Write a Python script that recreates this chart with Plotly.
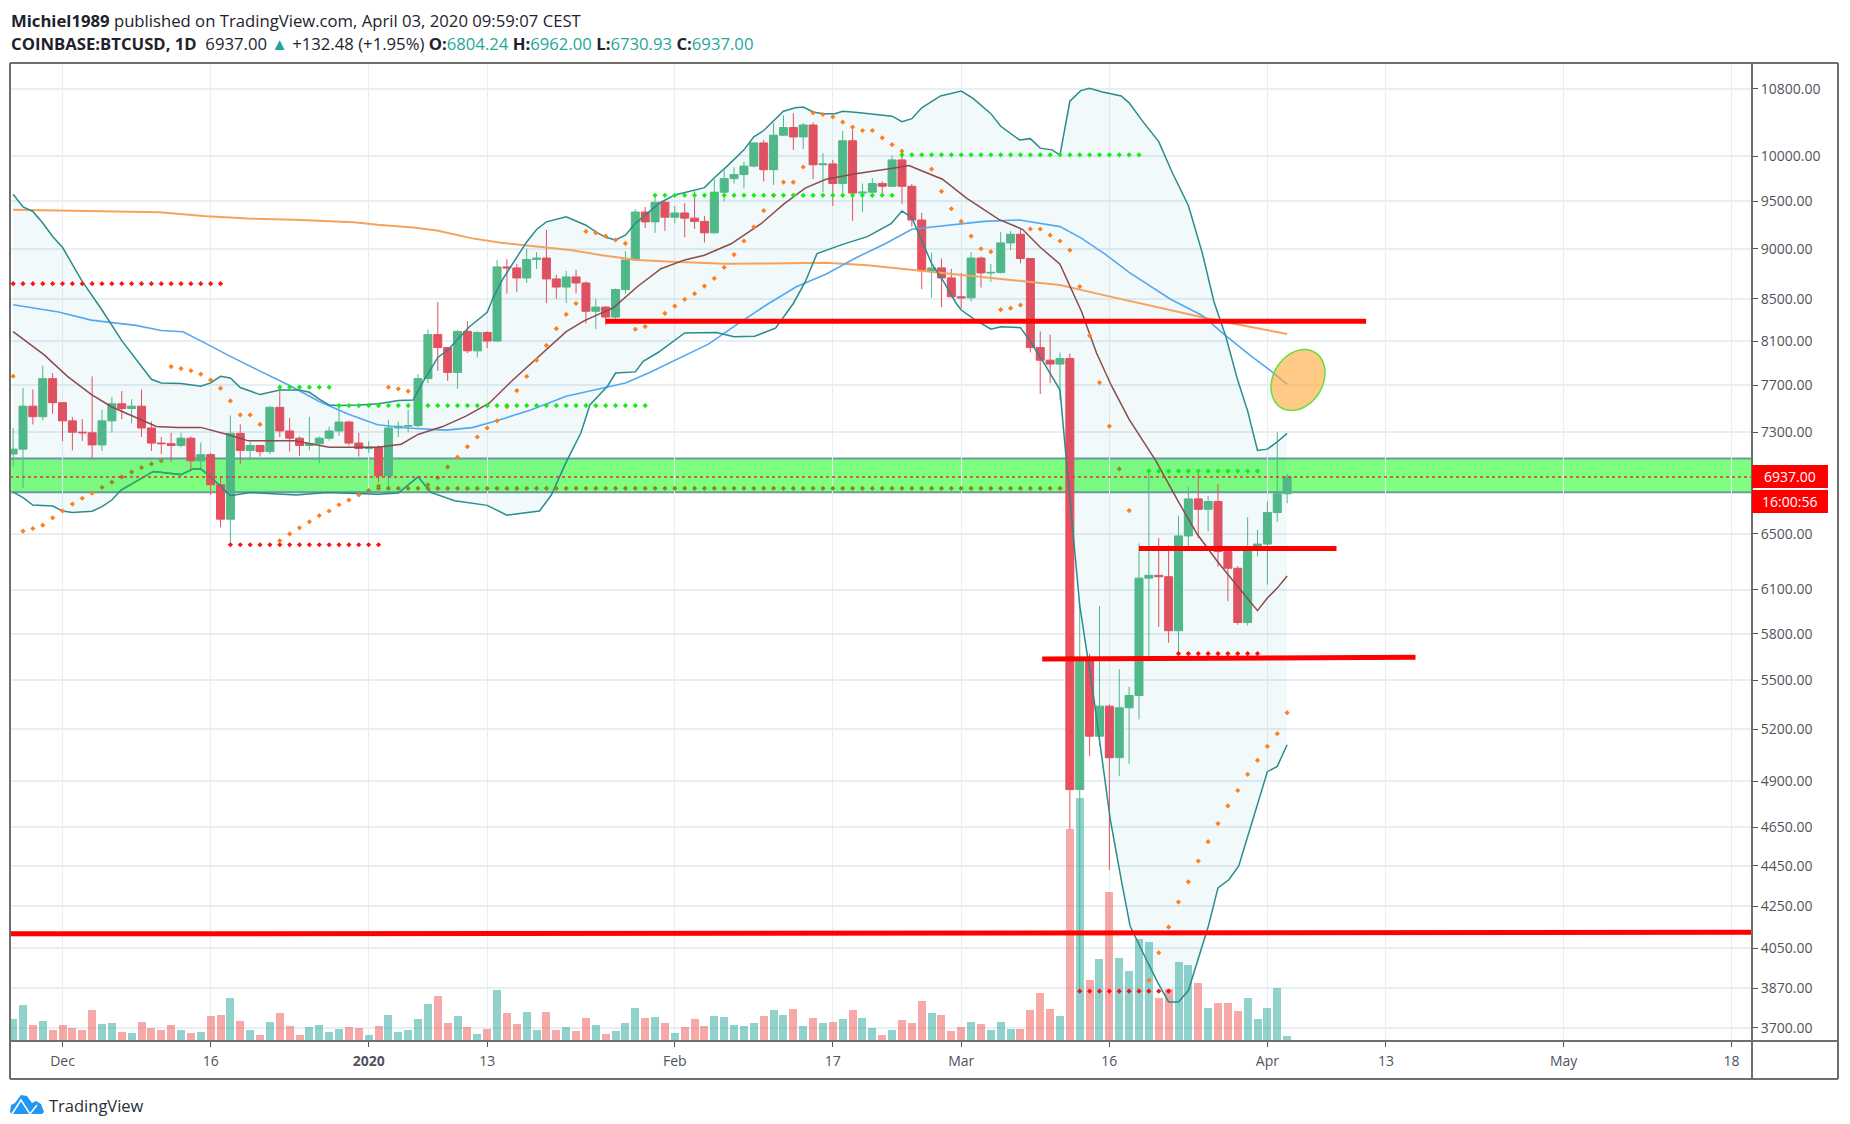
import numpy as np
import pandas as pd
import plotly.graph_objects as go

# ---------- candles (COINBASE:BTCUSD daily, 2019-11-26 .. 2020-04-03) ----------
opens = [7120,7160,7520,7430,7760,
 7550,7395,7300,7295,7195,7395,7540,7500,7520,7335,7210,7205,7190,7250,7065,7115,6875,6610,7290,7150,7190,7140,7510,7310,7250,7190,7205,7250,7310,7385,7210,
 7165,7175,6945,7335,7350,7355,7760,8160,8040,7815,8190,8010,8180,8100,8815,8805,8705,8890,8905,8695,8615,8715,8655,8380,8420,8325,8590,8885,9385,9280,9490,
 9330,9375,9320,9285,9165,9600,9750,9795,9890,10155,9850,10245,10335,10225,10365,9905,9915,9695,10180,9590,9600,9695,9665,9960,9665,9300,8775,8805,8705,
 8520,8510,8905,8755,8760,9060,9150,8900,8040,7925,7890,7940,4855,5635,5160,5340,5035,5330,5405,6180,6200,6190,5820,6485,6765,6685,6745,6370,6250,5875,6400,
 6425,6660,6804.24]
highs = [7335,7680,7665,7875,7810,
 7555,7425,7410,7780,7490,7600,7650,7580,7665,7390,7260,7295,7295,7265,7215,7130,6937,7440,7365,7220,7195,7520,7695,7420,7265,7430,7265,7345,7530,7395,7295,
 7225,7190,7405,7390,7490,7800,8210,8470,8045,8200,8285,8190,8190,8885,8895,8845,9000,8965,9195,8735,8775,8785,8670,8500,8430,8600,8975,9415,9440,9575,9510,
 9450,9480,9610,9345,9740,9840,9875,9940,10160,10190,10390,10480,10505,10385,10395,10035,9960,10295,10310,9695,9755,9720,10010,10010,9690,9375,8960,8900,8795,
 8755,8965,8920,8845,9175,9185,9205,8905,8190,8160,7995,7985,5995,5670,5985,5350,5570,5460,6430,6990,6470,6415,6635,6860,6970,6790,6880,6375,6265,6625,
 6530,6745,7300,6962]
lows = [7015,6850,7365,7400,7455,
 7225,7150,7227,7080,7145,7295,7410,7375,7260,7145,7120,7060,7175,6995,6990,6795,6550,6425,7040,7070,7100,7120,7260,7140,7105,7150,7045,7230,7270,7190,7100,
 7130,6895,6860,7260,7300,7340,7720,7830,7740,7670,7990,7950,8035,8095,8550,8565,8655,8795,8460,8500,8460,8555,8265,8210,8250,8265,8550,8875,9215,9165,9185,
 9265,9120,9205,9065,9155,9500,9695,9640,9875,9720,9680,10240,10074,10085,9745,9600,9450,9590,9290,9385,9540,9560,9660,9470,9230,8595,8510,8420,8515,
 8410,8475,8610,8665,8750,8985,8850,7995,7625,7720,7570,4640,3850,5045,5105,4430,4930,5000,5260,5650,5845,5740,5675,6395,6470,6520,6260,6020,5860,5855,
 6335,6135,6590,6730.93]
closes = [7160,7520,7430,7760,7550,
 7395,7300,7295,7195,7395,7540,7500,7520,7335,7210,7205,7190,7250,7065,7115,6875,6610,7290,7150,7190,7140,7510,7310,7250,7190,7205,7250,7310,7385,7210,7165,
 7175,6945,7335,7350,7355,7760,8160,8040,7815,8190,8010,8180,8100,8815,8805,8705,8890,8905,8695,8615,8715,8655,8380,8420,8325,8590,8885,9385,9280,9490,9330,
 9375,9320,9285,9165,9600,9750,9795,9890,10155,9850,10245,10335,10225,10365,9905,9915,9695,10180,9590,9600,9695,9665,9960,9665,9300,8775,8805,8705,8520,
 8510,8905,8755,8760,9060,9150,8900,8040,7925,7890,7940,4855,5635,5160,5340,5035,5330,5405,6180,6200,6190,5820,6485,6765,6685,6745,6370,6250,5875,6400,6425,
 6660,6804.24,6937]
# volume in arbitrary units
volumes = [22,36,16.3,20.3,11.3,16.3,13.3,11.3,31,17.3,17.7,9,8,19.3,13.3,11,16,11.3,8,9,
 24.7,26.3,43,19.7,11.3,6.3,19,28,14.7,6,14.3,16,9,12,14,12.7,6.3,15.3,26.3,9,11,22,37,45,18,25.3,14,7.3,12.3,50.7,
 28,17.3,29,10.7,28.7,10.7,14,10.3,23,16.3,7.3,10.3,18,33,23,
 24,18,8,14,22,15.3,24.7,23.7,16,15.3,18,24.7,31,25.7,32,15.3,23,17.7,19,22,31,23,13.3,6.3,10.7,21,17.7,40.3,27.7,25.7,9.7,
 14,19,17.3,10.7,19,12,12,31.3,48,32,25.3,212,243,61.4,82,149,82.6,70,102,99,43.5,52,79,76,58,33,38,38,30,43.5,22,33,53.5,5]

# ---------- indicator lines: day number counted from 2019-12-01, and price ----------
upper_days = [-5,-4,-3,-2,-1,0,2,4,6,8,9,10,12,14,15,16,17,18,20,22,24,25,26,27,28,30,32,34,35.5,36.5,37.4,38,39,41.2,43,43.6,44.6,45.8,47,48,49,51,53,54,55,56,57,58,60.5,62,63.9,65,66,67.3,69,70,71,72,73,74.2,75,76,77,78.2,79,80.5,82.8,84,85,86,87,88.9,91,92.2,94,95,96.9,98,99,100.2,101,102,103.1,104,105.2,107.2,108,109.4,111,112.4,114,115.4,116.6,117.8,119,120,121,122,123,124]
upper_vals = [9578,9440,9391,9268,9126,9015,8671,8392,8104,7876,7754,7722,7716,7693,7722,7780,7765,7682,7620,7659,7660,7640,7580,7530,7525,7530,7540,7568,7573,7732,7860,7950,8018,8233,8370,8510,8697,8885,9070,9200,9280,9335,9245,9175,9118,9090,9140,9265,9485,9570,9625,9650,9760,9890,10075,10225,10300,10420,10530,10570,10580,10520,10500,10500,10530,10515,10490,10470,10405,10440,10570,10715,10775,10685,10500,10350,10190,10205,10095,10075,10015,10650,10780,10810,10765,10715,10630,10405,10170,9810,9455,8960,8470,8140,7745,7480,7150,7160,7220,7290]
lower_days = [-5,-4,-3,-1,0,1,3,4,5,5.9,9.2,12,13.2,14,15,17,19,23.7,26.8,32,34,36,37.3,39.7,43,45,48.3,49.5,51,52.5,53.4,55.2,56,58,58.8,60.3,63,66.2,68,70.1,72.2,74,75.2,76.4,79,81.5,83.9,85,86,88,89.2,90.5,91,92.3,94,95,97,98,99.5,101,101.7,102.6,103,104.4,106.1,107.3,108.1,109.4,110.9,112,113,114,115,116,117,118.1,119.1,120,121,122,123,124]
lower_vals = [6817,6775,6717,6710,6672,6660,6670,6705,6756,6832,6980,6955,7000,7000,6937,6790,6815,6795,6815,6800,6810,6937,6815,6750,6715,6640,6672,6795,7055,7295,7530,7695,7810,7820,7915,7995,8175,8180,8140,8145,8220,8455,8665,8950,9045,9125,9260,9395,9325,8850,8670,8455,8392,8305,8210,8233,8225,8095,7880,7660,7020,6295,5990,5400,4690,4355,4155,4030,3895,3810,3810,3860,4000,4150,4340,4380,4450,4600,4785,4955,4985,5110]
basis_days = [-5,-1.85,0.5,2.9,5,7.4,9.5,11.6,14,16.7,18.8,23.5,27,31.9,34.3,36,38.5,40.9,43.2,45.6,48,51,52.8,54,55.8,58.2,60.6,63,65,67.7,70.7,73,75.2,77.3,80.3,83.9,85.7,87.3,89.1,91.5,94.8,97.2,99,101,103.2,104.7,106.2,108,110.7,113,114.9,117,119.6,121,122,123,124]
basis_vals = [8187,7973,7780,7622,7513,7423,7347,7340,7340,7281,7228,7228,7175,7175,7200,7281,7347,7437,7545,7748,7940,8187,8289,8341,8415,8618,8797,8886,8934,9051,9258,9468,9644,9743,9803,9864,9896,9824,9743,9538,9307,9202,9015,8843,8374,7990,7700,7407,7067,6742,6497,6293,6067,5955,6042,6110,6195]
blue_days = [-5,-0.4,2.9,7.4,10,12.2,14.3,16.7,20,23,25.9,28.9,31.9,34.9,38.8,41.5,44.4,47.4,51,54.9,57,59.4,62.4,65.4,68.3,71.3,74.3,77.3,80.3,83.3,86,90.9,93.3,96.9,101,103.2,105.6,108,112.2,115.4,117.5,120.2,122.6,124]
blue_vals = [8443,8374,8296,8246,8198,8186,8088,7973,7827,7700,7565,7453,7362,7335,7317,7338,7407,7488,7606,7684,7722,7812,7940,8072,8256,8443,8618,8742,8905,9051,9202,9254,9285,9300,9230,9107,8942,8761,8496,8340,8171,7973,7812,7710]
orange_days = [-5,-0.4,5.6,9.8,14.6,18.8,23.5,29.5,31.9,35.5,37.9,41.5,44.4,47.4,51.6,54.6,58.2,61.8,67.1,71.3,77.3,81.5,86.9,92,97,101,105.2,111.2,115.4,119,124]
orange_vals = [9410,9400,9391,9383,9340,9315,9304,9276,9250,9220,9190,9107,9062,9033,8985,8934,8886,8868,8847,8850,8858,8832,8778,8724,8671,8636,8541,8409,8323,8255,8166]

# parabolic SAR dots
psar_days = [-5,-4,-3,-2,-1,0,1,2,3,4,5,6,7,8,9,10,11,12,13,14,15,16,17,18,19,20,22,23,24,25,26,27,28,29,30,31,32,33,34,35,37,38,39,40,41,42,43,44,45,46,47,48,49,50,51,52,53,54,55,56,57,58,59,61,62,63,64,65,66,67,68,69,70,71,72,73,74,75,76,77,78,79,80,81,82,83,84,85,88,89,90,91,92,93,94,95,96,97,98,99,100,101,102,103,104,105,106,107,108,110,111,112,113,114,115,116,117,118,119,120,121,122,123,124]
psar_vals = [7781,6520,6540,6565,6620,6672,6725,6770,6810,6855,6895,6937,6975,7010,7040,7065,7868,7850,7830,7800,7747,7675,7565,7445,7445,7365,6450,6500,6545,6590,6637,6672,6720,6756,6795,6830,6865,7685,7670,7650,6875,6930,7015,7095,7180,7260,7335,7395,7515,7655,7780,7925,8060,8215,8350,8455,9180,9165,9130,9090,9055,8210,8235,8360,8430,8495,8550,8625,8700,8810,8940,9080,9225,9400,9565,9710,9710,9880,10510,10490,10460,10400,10340,10300,10300,10215,10135,10060,9855,9610,9420,9285,9130,9000,8970,8395,8410,8440,9205,9205,9140,9080,8985,8620,8150,7725,7350,7000,6675,3905,4030,4150,4270,4370,4475,4575,4670,4765,4850,4940,5020,5100,5175,5300]

# dotted levels: first day, last day, price, colour
red_levels = [(-5,16,8648),(17,32,6420),(113,121,5670),(103,112,3857)]
green_levels = [(22,27,7685),(28,59,7525),(60,84,9566),(85,109,10018),(110,121,6983)]
olive_levels = [(32,101,6847)]

# hand drawn horizontal lines: day from, day to, price from, price to
drawn_lines = [(55.0,132.0,8285,8285),(-5.3,171.07,4118,4125),(109.0,129.0,6392,6392),(99.2,137.0,5635,5647)]
band_low, band_high = 6817, 7084
last_price = 6937

x_tick_days = [0,15,31,43,62,78,91,106,122,134,152,169]
x_tick_text = ["Dec","16","<b>2020</b>","13","Feb","17","Mar","16","Apr","13","May","18"]
y_ticks = [10800,10000,9500,9000,8500,8100,7700,7300,6500,6100,5800,5500,5200,4900,4650,4450,4250,4050,3870,3700]

# ---------- helpers ----------
D0 = pd.Timestamp("2019-12-01")
def day(d):
    return (D0 + pd.to_timedelta(d, unit="D")).strftime("%Y-%m-%d %H:%M:%S")
def days(seq):
    return [day(d) for d in seq]
L, R, T, B = 10, 1752, 63, 1041
def PX(x): return (x - L) / (R - L)
def PY(y): return (B - y) / (B - T)

all_days = list(range(-5, 125))
assert len(opens) == len(highs) == len(lows) == len(closes) == len(volumes) == 130

GREEN, RED = "#53B987", "#EB4D5C"
fig = go.Figure()

vol_colors = ["rgba(38,166,154,0.5)" if c >= o else "rgba(239,83,80,0.5)" for o, c in zip(opens, closes)]
fig.add_trace(go.Bar(x=days(all_days), y=volumes, marker=dict(color=vol_colors, line=dict(width=0)),
                     yaxis="y", width=8.0 * 86400000 / 9.876, hoverinfo="skip", showlegend=False))

fig.add_trace(go.Candlestick(x=days(all_days), open=opens, high=highs, low=lows, close=closes, yaxis="y2",
    increasing=dict(line=dict(color=GREEN, width=1), fillcolor=GREEN),
    decreasing=dict(line=dict(color=RED, width=1), fillcolor=RED),
    whiskerwidth=0, showlegend=False, hoverinfo="skip"))

# Bollinger fill
fig.add_trace(go.Scatter(x=days(upper_days) + days(lower_days[::-1]), y=upper_vals + lower_vals[::-1],
    yaxis="y2", mode="lines", fill="toself", fillcolor="rgba(33,150,170,0.06)", line=dict(width=0),
    hoverinfo="skip", showlegend=False))
for xs, ys, col, w in [(orange_days, orange_vals, "#F5A35C", 2),
                       (blue_days, blue_vals, "#53A8F0", 1.6),
                       (basis_days, basis_vals, "#8C4A4A", 1.5),
                       (upper_days, upper_vals, "#2A8C8C", 1.5),
                       (lower_days, lower_vals, "#2A8C8C", 1.5)]:
    fig.add_trace(go.Scatter(x=days(xs), y=ys, yaxis="y2", mode="lines", line=dict(color=col, width=w),
                             hoverinfo="skip", showlegend=False))

# the parts of the lines that run through the green band look green-tinted
def in_band_runs(xs, ys, col, w):
    run_x, run_y = [], []
    for a, b in list(zip(xs, ys)) + [(None, None)]:
        if b is not None and band_low <= b <= band_high:
            run_x.append(a); run_y.append(b)
        else:
            if len(run_x) > 1:
                fig.add_trace(go.Scatter(x=days(run_x), y=run_y, yaxis="y2", mode="lines",
                                         line=dict(color=col, width=w), hoverinfo="skip", showlegend=False))
            run_x, run_y = [], []
in_band_runs(lower_days, lower_vals, "#37A868", 1.5)
in_band_runs(basis_days, basis_vals, "#5C7A3A", 1.5)

def dot_trace(xs, ys, col, size=4):
    fig.add_trace(go.Scatter(x=days(xs), y=ys, yaxis="y2", mode="markers",
        marker=dict(color=col, size=size, symbol="diamond", line=dict(width=0)), hoverinfo="skip", showlegend=False))

psar_cols = ["#9A8A20" if band_low <= v <= band_high else "#FF7F1E" for v in psar_vals]
dot_trace(psar_days, psar_vals, psar_cols)
for levels, col in [(red_levels, "#FF1010"), (green_levels, "#10F010"), (olive_levels, "#8A8A14")]:
    for a, b, p in levels:
        n = list(range(a, b + 1))
        dot_trace(n, [p] * len(n), col)

# ---------- furniture ----------
shapes = []
shapes.append(dict(type="rect", xref="paper", yref="y2", x0=0, x1=1, y0=band_low, y1=band_high, layer="between",
                   fillcolor="#7FFF7F", line=dict(color="#6F9A9E", width=2)))
for a, b, p0, p1 in drawn_lines:
    shapes.append(dict(type="line", xref="x", yref="y2", x0=day(a), x1=day(b), y0=p0, y1=p1,
                       line=dict(color="#FF0000", width=5)))
shapes.append(dict(type="line", xref="paper", yref="y2", x0=0, x1=1, y0=last_price, y1=last_price,
                   line=dict(color="#E8352E", width=1.5, dash="dot")))
# ellipse
t = np.linspace(0, 2 * np.pi, 60)
ex = 1298 + 27 * np.cos(t)
ey = 380 - 7.3 * np.cos(t) + 29.6 * np.sin(t)
path = "M " + " L ".join(f"{PX(a):.5f},{PY(b):.5f}" for a, b in zip(ex, ey)) + " Z"
shapes.append(dict(type="path", xref="paper", yref="paper", path=path, fillcolor="rgba(255,170,60,0.62)",
                   line=dict(color="#5FE03C", width=1.5)))
# frame
grey = "#6E6E6E"
for x0, y0, x1, y1 in [(10, 63, 1838, 63), (10, 1079, 1838, 1079), (10, 63, 10, 1079), (1838, 63, 1838, 1079),
                       (1752, 63, 1752, 1079), (10, 1041, 1838, 1041)]:
    shapes.append(dict(type="line", xref="paper", yref="paper", x0=PX(x0), x1=PX(x1), y0=PY(y0), y1=PY(y1),
                       line=dict(color=grey, width=2)))
# price labels
for y0, y1 in [(465, 488), (490, 513)]:
    shapes.append(dict(type="rect", xref="paper", yref="paper", x0=PX(1752), x1=PX(1828), y0=PY(y0), y1=PY(y1),
                       fillcolor="#FF0000", line=dict(width=0)))
# logo
logo = [(10,1112),(11,1105),(15,1103),(21,1095),(27,1096),(32,1103),(36,1101),(41,1104),(44,1112),(42,1114),(12,1114)]
shapes.append(dict(type="path", xref="paper", yref="paper", fillcolor="#2196F3", line=dict(width=0),
                   path="M " + " L ".join(f"{PX(a):.5f},{PY(b):.5f}" for a, b in logo) + " Z"))
white = [(12,1114),(21,1100),(30,1114),(37,1105)]
shapes.append(dict(type="path", xref="paper", yref="paper", line=dict(color="white", width=1.5),
                   path="M " + " L ".join(f"{PX(a):.5f},{PY(b):.5f}" for a, b in white)))

FONT = "Open Sans"
teal = "#26A69A"
def tv(s): return f'<span style="color:{teal}">{s}</span>'
anns = [
    dict(x=PX(9), y=PY(20), xref="paper", yref="paper", xanchor="left", yanchor="middle", showarrow=False,
         text="<b>Michiel1989</b> published on TradingView.com, April 03, 2020 09:59:07 CEST",
         font=dict(family=FONT, size=16.7, color="#1E222D")),
    dict(x=PX(9), y=PY(43), xref="paper", yref="paper", xanchor="left", yanchor="middle", showarrow=False,
         text=f"<b>COINBASE:BTCUSD, 1D</b>  6937.00 {tv('▲')} +132.48 (+1.95%) <b>O:</b>{tv('6804.24')} <b>H:</b>{tv('6962.00')} <b>L:</b>{tv('6730.93')} <b>C:</b>{tv('6937.00')}",
         font=dict(family=FONT, size=16.7, color="#1E222D")),
    dict(x=PX(1790), y=PY(476.5), xref="paper", yref="paper", xanchor="center", yanchor="middle", showarrow=False,
         text="6937.00", font=dict(family=FONT, size=14, color="white")),
    dict(x=PX(1790), y=PY(501.5), xref="paper", yref="paper", xanchor="center", yanchor="middle", showarrow=False,
         text="16:00:56", font=dict(family=FONT, size=14, color="white")),
    dict(x=PX(47), y=PY(1105), xref="paper", yref="paper", xanchor="left", yanchor="middle", showarrow=False,
         text="TradingView", font=dict(family=FONT, size=16.5, color="#2A2E39")),
]

grid = "#E6EFF4"
fig.update_layout(
    width=1850, height=1124, autosize=False,
    margin=dict(l=L, r=1850 - R, t=T, b=1124 - B, pad=0),
    paper_bgcolor="white", plot_bgcolor="white",
    font=dict(family=FONT, size=14, color="#50535E"),
    boxgap=0.1, boxgroupgap=0.1, bargap=0,
    showlegend=False, hovermode=False,
    shapes=shapes, annotations=anns,
    xaxis=dict(type="date", range=[day(-5.316), day(171.07)], rangeslider=dict(visible=False),
               tickmode="array", tickvals=days(x_tick_days), ticktext=x_tick_text,
               showgrid=True, gridcolor=grid, gridwidth=1.2, zeroline=False,
               ticks="outside", ticklen=5, tickcolor="#50535E", showline=False, ticklabelstandoff=2,
               tickfont=dict(family=FONT, size=14, color="#50535E")),
    yaxis=dict(range=[0, B - T], visible=False, showgrid=False, zeroline=False, fixedrange=True),
    yaxis2=dict(type="log", overlaying="y", side="right", anchor="x",
                range=[float(np.log10(3644)), float(np.log10(11125))],
                tickmode="array", tickvals=y_ticks, ticktext=[f"{v:.2f}" for v in y_ticks],
                showgrid=True, gridcolor=grid, gridwidth=2, zeroline=False,
                ticks="outside", ticklen=5, tickcolor="#50535E", showline=False,
                tickfont=dict(family=FONT, size=14, color="#50535E")),
)

fig.write_html("out.html", config={"displayModeBar": False}, post_script="document.body.style.margin='0';")
